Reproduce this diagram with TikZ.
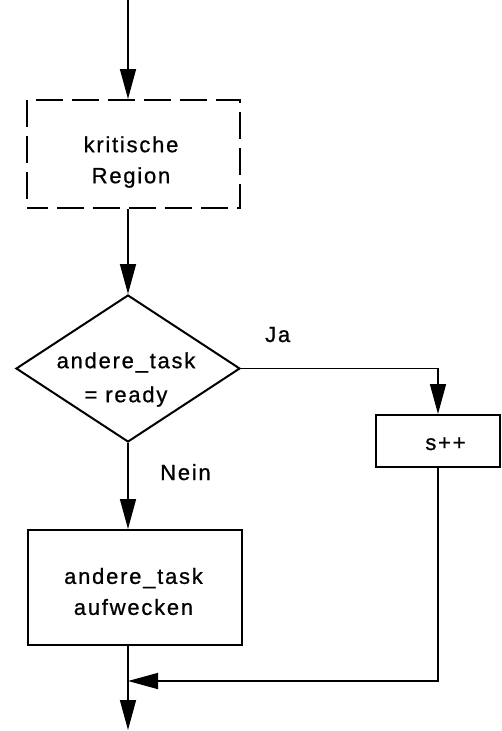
\documentclass[tikz,border=0pt]{standalone}
\usepackage{fontspec}
\setmainfont{Liberation Sans}[LetterSpace=8,FakeBold=0.8]
\usetikzlibrary{arrows.meta,shapes.geometric}
\tikzset{
  conn/.style={line width=1.6pt,-{Triangle[length=30pt,width=16pt]}},
  boxshape/.style={draw,line width=2pt,rectangle,inner sep=0pt},
  dashbox/.style={boxshape,dash pattern=on 27pt off 9pt,dash phase=6pt},
  dia/.style={draw,line width=2pt,diamond,inner sep=0pt},
  txt/.style={font=\fontsize{22}{31}\selectfont,align=center,inner sep=0pt},
  lbl/.style={font=\fontsize{22}{31}\selectfont,inner sep=0pt,anchor=base west}
}
\begin{document}
\begin{tikzpicture}[x=1pt,y=-1pt]
\useasboundingbox (0,0) rectangle (501,731);
% nodes
\coordinate (top) at (128,0);
\node[dashbox,minimum width=213pt,minimum height=108pt] (kr) at (133.5,154) {};
\node[txt] (krt) at (131,162) {kritische\\Region};
\node[dia,minimum width=224pt,minimum height=147pt] (d) at (128,368.5) {};
\node[txt,font=\fontsize{22}{34}\selectfont] (dt) at (126,379.5) {andere\_task\\= ready};
\node[boxshape,minimum width=214pt,minimum height=115pt] (wk) at (135,587.5) {};
\node[txt] (wkt) at (133.5,591.5) {andere\_task\\aufwecken};
\node[boxshape,minimum width=124pt,minimum height=52pt] (sp) at (438,441) {};
\node[lbl,anchor=base] (spt) at (445.5,450) {s++};
\node[lbl] (ja) at (265,342) {Ja};
\node[lbl] (nein) at (160,480) {Nein};
\coordinate (join) at (128,681);
\coordinate (end) at (128,730);
% connectors
\draw[conn] (top) -- (top |- kr.north);
\draw[conn] (top |- kr.south) -- (d.north);
\draw[conn] (d.south) -- (top |- wk.north);
\draw[conn] (d.east) -| (sp.north);
\draw[conn] (top |- wk.south) -- (end);
\draw[conn] (sp.south) |- (join);
\end{tikzpicture}
\end{document}
